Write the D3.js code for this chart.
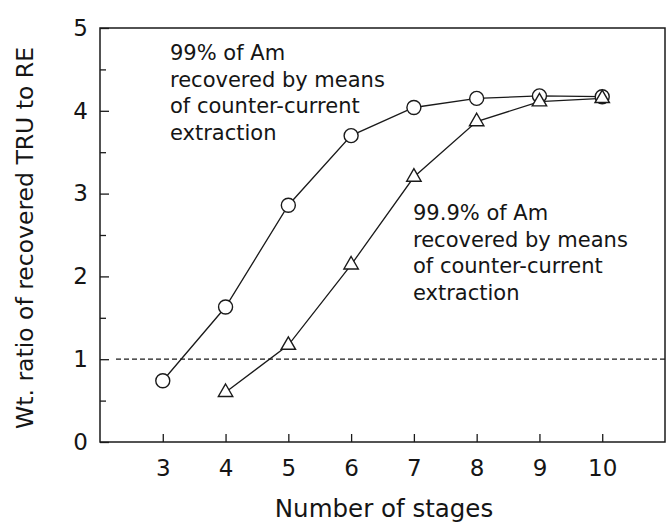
<!DOCTYPE html>
<html>
<head>
<meta charset="utf-8">
<script src="https://cdn.jsdelivr.net/npm/d3@7"></script>
<style>
  html, body { margin: 0; padding: 0; background: #fff; }
  svg { display: block; }
  text { font-family: "DejaVu Sans", Verdana, sans-serif; fill: #151515; }
</style>
</head>
<body>
<div id="chart"></div>
<script>
// ---- data ----
const stages = [3, 4, 5, 6, 7, 8, 9, 10];
const am99 = [0.74, 1.63, 2.86, 3.70, 4.04, 4.15, 4.18, 4.17];
const stagesB = [4, 5, 6, 7, 8, 9, 10];
const am999 = [0.60, 1.17, 2.14, 3.20, 3.87, 4.11, 4.15];
const yTicks = [0, 1, 2, 3, 4, 5];
const yMinorTicks = [0.5, 1.5, 2.5, 3.5, 4.5];
const xTicks = [3, 4, 5, 6, 7, 8, 9, 10];
const refLine = 1;
const note99 = ["99% of Am", "recovered by means", "of counter-current", "extraction"];
const note999 = ["99.9% of Am", "recovered by means", "of counter-current", "extraction"];
const xTitle = "Number of stages";
const yTitle = "Wt. ratio of recovered TRU to RE";

// ---- layout ----
const W = 666, H = 526;
const L = 100, R = 665, T = 28, B = 442;
const ink = "#1a1a1a";
const FONT = "'DejaVu Sans', Verdana, sans-serif";

const svg = d3.select("#chart").append("svg").attr("width", W).attr("height", H);

const x = d3.scaleLinear().domain([2, 11]).range([L, R]);
const y = d3.scaleLinear().domain([0, 5]).range([B, T]);

// frame
svg.append("rect").attr("x", L).attr("y", T).attr("width", R - L).attr("height", B - T)
  .attr("fill", "none").attr("stroke", ink).attr("stroke-width", 1.5);

// y axis (major)
const yAx = svg.append("g").attr("transform", `translate(${L},0)`)
  .call(d3.axisLeft(y).tickValues(yTicks).tickFormat(d3.format("d"))
    .tickSizeInner(-9).tickSizeOuter(0).tickPadding(12));
yAx.select(".domain").remove();
yAx.selectAll("line").attr("stroke", ink).attr("stroke-width", 1.3);
yAx.selectAll("text").attr("font-size", 23).attr("fill", ink).style("font-family", FONT);

// y minor ticks
const yMin = svg.append("g").attr("transform", `translate(${L},0)`)
  .call(d3.axisLeft(y).tickValues(yMinorTicks).tickFormat("").tickSizeInner(-6).tickSizeOuter(0));
yMin.select(".domain").remove();
yMin.selectAll("line").attr("stroke", ink).attr("stroke-width", 1.3);

// x axis
const xAx = svg.append("g").attr("transform", `translate(0,${B})`)
  .call(d3.axisBottom(x).tickValues(xTicks).tickFormat(d3.format("d"))
    .tickSizeInner(-8).tickSizeOuter(0).tickPadding(18));
xAx.select(".domain").remove();
xAx.selectAll("line").attr("stroke", ink).attr("stroke-width", 1.3);
xAx.selectAll("text").attr("font-size", 23).attr("fill", ink).style("font-family", FONT);

// reference dashed line
svg.append("line")
  .attr("x1", L + 16).attr("x2", R).attr("y1", y(refLine)).attr("y2", y(refLine))
  .attr("stroke", ink).attr("stroke-width", 1.3).attr("stroke-dasharray", "5,3");

// lines
const lineGen = d3.line().x(d => x(d[0])).y(d => y(d[1]));
const dA = stages.map((s, i) => [s, am99[i]]);
const dB = stagesB.map((s, i) => [s, am999[i]]);

svg.append("path").attr("d", lineGen(dA)).attr("fill", "none").attr("stroke", ink).attr("stroke-width", 1.3);
svg.append("path").attr("d", lineGen(dB)).attr("fill", "none").attr("stroke", ink).attr("stroke-width", 1.3);

// markers
svg.selectAll(".circ").data(dA).enter().append("circle")
  .attr("cx", d => x(d[0])).attr("cy", d => y(d[1])).attr("r", 7)
  .attr("fill", "#fff").attr("stroke", ink).attr("stroke-width", 1.4);

const tri = d3.symbol().type(d3.symbolTriangle).size(90);
svg.selectAll(".tri").data(dB).enter().append("path")
  .attr("d", tri).attr("transform", d => `translate(${x(d[0])},${y(d[1])})`)
  .attr("fill", "#fff").attr("stroke", ink).attr("stroke-width", 1.4);

// annotations
function note(lines, x0, y0) {
  const t = svg.append("text").attr("font-size", 21).attr("fill", ink);
  lines.forEach((s, i) => t.append("tspan").attr("x", x0).attr("y", y0 + i * 26.7).text(s));
}
note(note99, 170, 60);
note(note999, 413, 220);

// axis titles
svg.append("text").attr("x", 384).attr("y", 517).attr("text-anchor", "middle")
  .attr("font-size", 24.5).text(xTitle);
svg.append("text").attr("transform", `translate(33,238) rotate(-90)`).attr("text-anchor", "middle")
  .attr("font-size", 23.5).text(yTitle);
</script>
</body>
</html>
